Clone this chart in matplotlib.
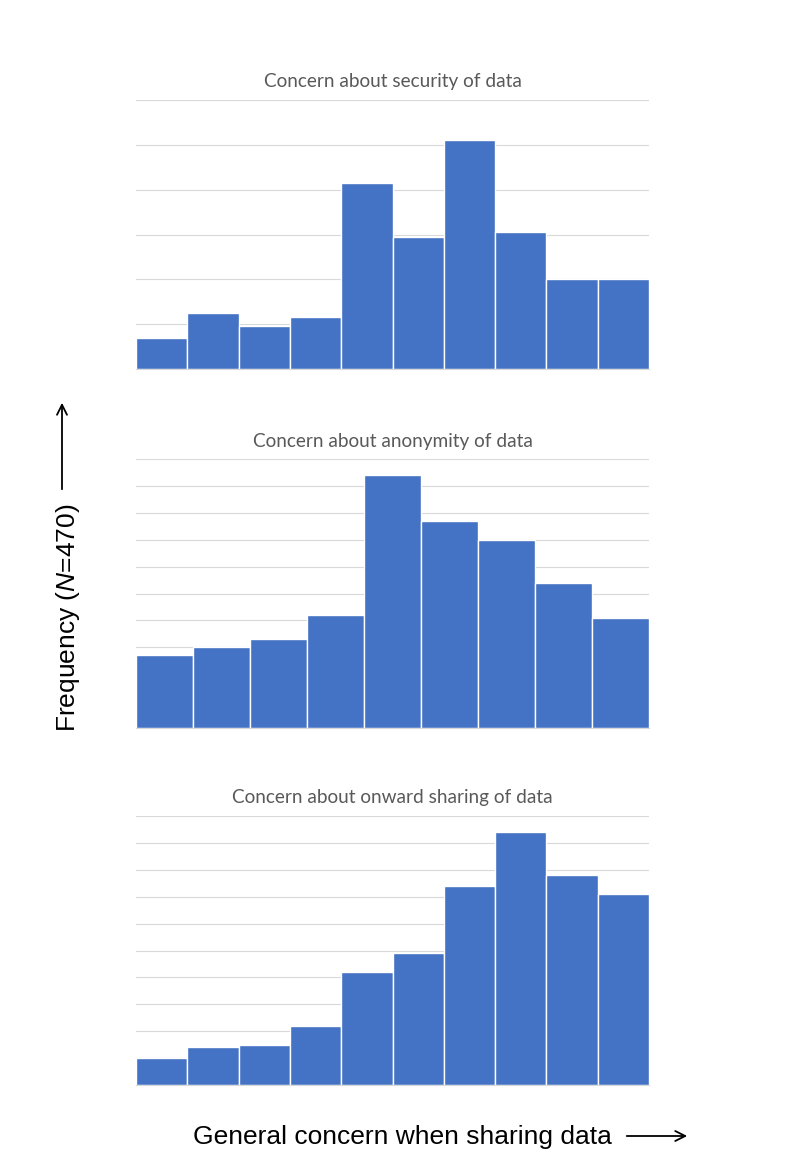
import numpy as np
import matplotlib
matplotlib.use("Agg")
import matplotlib.pyplot as plt

plt.rcParams['font.family'] = ['Liberation Sans', 'DejaVu Sans']
plt.rcParams['mathtext.fontset'] = 'custom'
plt.rcParams['mathtext.rm'] = 'Liberation Sans'
plt.rcParams['mathtext.it'] = 'Liberation Sans:italic'

# frequencies per concern level
security = [14, 25, 19, 23, 83, 59, 102, 61, 40, 40]
anonymity = [27, 30, 33, 42, 94, 77, 70, 54, 41]
onward = [10, 14, 15, 22, 42, 49, 74, 94, 78, 71]

titles = ["Concern about security of data",
          "Concern about anonymity of data",
          "Concern about onward sharing of data"]
y_max = [120, 100, 100]
y_step = [20, 10, 10]

bar_color = '#4472C4'
grid_color = '#d9d9d9'
title_color = '#595959'

fig = plt.figure(figsize=(7.94, 11.58), dpi=100)

W, H = 794, 1158
left, right = 136, 649
panels = [(100, 369), (459, 728), (816, 1085)]

for data, title, top, step, (y0, y1) in zip([security, anonymity, onward],
                                            titles, y_max, y_step, panels):
    ax = fig.add_axes([left / W, 1 - y1 / H, (right - left) / W, (y1 - y0) / H])
    n = len(data)
    ax.bar(np.arange(n), data, width=1, align='edge', color=bar_color,
           edgecolor='white', linewidth=1, zorder=3)
    ax.set_xlim(0, n)
    ax.set_ylim(0, top)
    ax.set_yticks(np.arange(0, top + 1, step))
    ax.set_xticks([])
    ax.tick_params(left=False, labelleft=False)
    ax.yaxis.grid(True, color=grid_color, linewidth=0.8, zorder=0)
    for s in ['top', 'left', 'right']:
        ax.spines[s].set_visible(False)
    ax.spines['bottom'].set_color(grid_color)
    ax.spines['bottom'].set_zorder(4)
    ax.set_title(title, fontsize=13.7, color=title_color, pad=9,
                 family=['Lato', 'DejaVu Sans'])

# y label with arrow
fig.text(68 / W, 1 - 618 / H, r"Frequency ($\mathit{N}$=470)", rotation=90,
         fontsize=19, ha='center', va='center', color='black')
fig.add_artist(matplotlib.patches.FancyArrowPatch(
    (62 / W, 1 - 492 / H), (62 / W, 1 - 400 / H), transform=fig.transFigure,
    arrowstyle='->', mutation_scale=18, color='black', linewidth=1.3))

# x label with arrow
fig.text(402 / W, 1 - 1137 / H, "General concern when sharing data",
         fontsize=19, ha='center', va='center', color='black')
fig.add_artist(matplotlib.patches.FancyArrowPatch(
    (624 / W, 1 - 1136 / H), (690 / W, 1 - 1136 / H), transform=fig.transFigure,
    arrowstyle='->', mutation_scale=18, color='black', linewidth=1.3))

fig.savefig("out.png", dpi=100)
